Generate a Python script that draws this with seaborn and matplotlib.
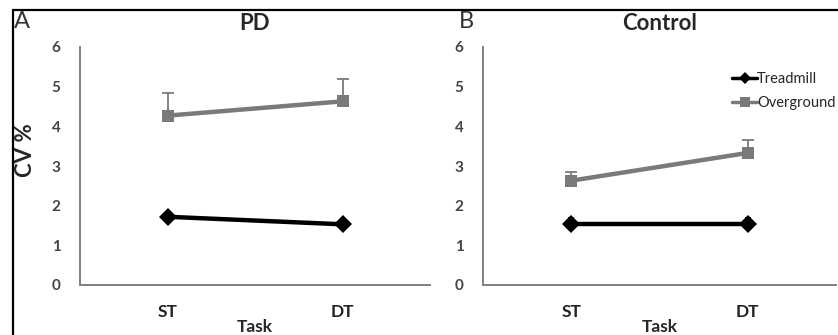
#!/usr/bin/env python3
"""CV% of stride time by task, treadmill vs overground, PD and control groups."""

import matplotlib.pyplot as plt
import pandas as pd
import seaborn as sns
from matplotlib.lines import Line2D

plt.switch_backend("Agg")

tasks = ["ST", "DT"]
groups = ["PD", "Control"]
panel_letters = ["A", "B"]
conditions = ["Treadmill", "Overground"]

# mean CV% per group, per condition, per task
pd_treadmill = [1.72, 1.53]
pd_overground = [4.27, 4.63]
control_treadmill = [1.55, 1.55]
control_overground = [2.63, 3.33]

# error bar half-widths (overground shown upward only)
pd_treadmill_err = [0.12, 0.10]
pd_overground_err = [0.57, 0.57]
control_treadmill_err = [0.15, 0.15]
control_overground_err = [0.22, 0.32]

colors = {"Treadmill": "#000000", "Overground": "#7a7a7a"}
markers = {"Treadmill": "D", "Overground": "s"}

values = {
    ("PD", "Treadmill"): (pd_treadmill, pd_treadmill_err),
    ("PD", "Overground"): (pd_overground, pd_overground_err),
    ("Control", "Treadmill"): (control_treadmill, control_treadmill_err),
    ("Control", "Overground"): (control_overground, control_overground_err),
}

rows = []
for (group, condition), (means, errs) in values.items():
    for task, mean, err in zip(tasks, means, errs):
        rows.append({"group": group, "condition": condition, "task": task, "cv": mean, "err": err})
frame = pd.DataFrame(rows)

sns.set_style("white")
plt.rcParams["font.family"] = ["Lato", "DejaVu Sans"]

fig = plt.figure(figsize=(8.38, 3.35), dpi=100)
W, H = 838, 335
boxes = [(80, 430), (483, 836)]
top_px, bottom_px = 47, 285

for idx, (group, letter, (x0, x1)) in enumerate(zip(groups, panel_letters, boxes)):
    ax = fig.add_axes([x0 / W, 1 - bottom_px / H, (x1 - x0) / W, (bottom_px - top_px) / H])
    sub = frame[frame.group == group]
    for condition in conditions:
        part = sub[sub.condition == condition]
        pos = [tasks.index(t) for t in part.task]
        if condition == "Overground":
            yerr = [[0] * len(part), part.err.tolist()]
            cap = 4
        else:
            yerr = part.err.tolist()
            cap = 2
        ax.errorbar(pos, part.cv, yerr=yerr, fmt="none", ecolor=colors[condition],
                    elinewidth=1.3, capsize=cap, capthick=1.3, zorder=1)
    sns.lineplot(
        data=sub.assign(x=sub.task.map(tasks.index)),
        x="x",
        y="cv",
        hue="condition",
        style="condition",
        hue_order=conditions,
        palette=colors,
        markers=markers,
        dashes=False,
        markersize=9,
        markeredgewidth=0,
        linewidth=3.2,
        legend=False,
        ax=ax,
        zorder=3,
    )
    ax.set_xlim(-0.5, 1.5)
    ax.set_ylim(0, 6)
    ax.set_xticks([0, 1])
    ax.set_xticklabels(tasks, fontsize=12.5, fontweight="bold", color="#222222")
    ax.set_yticks(range(7))
    ax.set_yticklabels([str(v) for v in range(7)], fontsize=11, fontweight="bold", color="#444444")
    ax.tick_params(axis="y", length=0, pad=14)
    ax.tick_params(axis="x", length=0, pad=14)
    for side in ("top", "right"):
        ax.spines[side].set_visible(False)
    for side in ("left", "bottom"):
        ax.spines[side].set_color("#7f7f7f")
        ax.spines[side].set_linewidth(1.4)
    ax.set_xlabel("Task", fontsize=12.5, fontweight="bold", labelpad=-1)
    ax.set_ylabel("")
    ax.set_title(group, fontsize=16, fontweight="bold", pad=12)
    lx = 22 if idx == 0 else 466
    fig.text(lx / W, 1 - 21 / H, letter, fontsize=17, ha="center", va="center", color="#333333")
    if idx == 1:
        handles = [
            Line2D([], [], color=colors[c], marker=markers[c], lw=2.5,
                   markersize=6 if c == "Treadmill" else 7, markeredgewidth=0)
            for c in conditions
        ]
        ax.legend(handles, conditions, loc="upper left", bbox_to_anchor=(0.69, 0.92),
                  frameon=False, fontsize=10.5, handlelength=1.7, handletextpad=0.0,
                  labelspacing=0.7, borderaxespad=0)

fig.text(25 / W, 1 - 150 / H, "CV %", rotation=90, fontsize=16, fontweight="bold",
         ha="center", va="center")

# outer frame (left and top edges of the original figure box)
fig.add_artist(Line2D([12.5 / W, 12.5 / W], [0, 1 - 10 / H], color="black", lw=1.6,
                      transform=fig.transFigure))
fig.add_artist(Line2D([12.5 / W, 1], [1 - 10 / H, 1 - 10 / H], color="black", lw=1.6,
                      transform=fig.transFigure))

fig.savefig("out.png", dpi=100)
plt.close(fig)
